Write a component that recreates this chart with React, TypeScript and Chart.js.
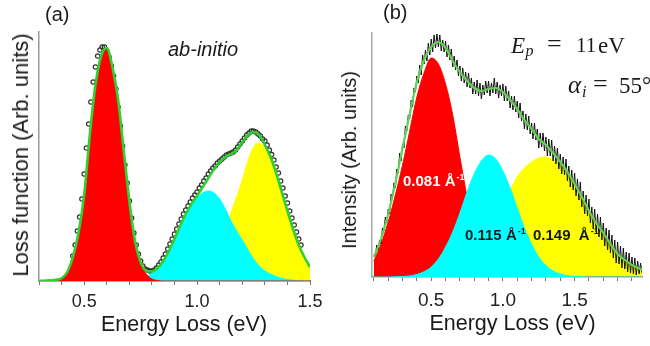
import React, { useEffect, useRef } from 'react';
import { Chart, registerables } from 'chart.js';

Chart.register(...registerables);

// ---------------- Panel (a): ab-initio loss function ----------------
const energyA = [
  0.3, 0.325, 0.35, 0.375, 0.4, 0.425, 0.45, 0.475, 0.5, 0.525,
  0.55, 0.575, 0.6, 0.625, 0.65, 0.675, 0.7, 0.725, 0.75, 0.775,
  0.8, 0.825, 0.85, 0.875, 0.9, 0.925, 0.95, 0.975, 1.0, 1.025,
  1.05, 1.075, 1.1, 1.125, 1.15, 1.175, 1.2, 1.225, 1.25, 1.275,
  1.3, 1.325, 1.35, 1.375, 1.4, 1.425, 1.45, 1.475, 1.5,
];
const redA = [
  0, 0, 0.5, 1, 2.5, 9, 24, 48, 86, 146,
  196, 225, 233, 214, 182, 131, 80, 40, 18, 7,
  2, 0.5, 0, 0, 0, 0, 0, 0, 0, 0,
  0, 0, 0, 0, 0, 0, 0, 0, 0, 0,
  0, 0, 0, 0, 0, 0, 0, 0, 0,
];
const cyanA = [
  0, 0, 0, 0, 0, 0, 0, 0, 0, 0,
  0, 0, 0, 0, 0, 0, 0.2, 0.5, 1.5, 4,
  8, 13, 20, 29, 41, 53, 65, 75, 83, 88,
  90, 88, 82, 72, 60, 50, 41, 31, 22, 15,
  10, 7, 4.5, 2.5, 1.5, 0.8, 0.3, 0, 0,
];
const yellowA = [
  0, 0, 0, 0, 0, 0, 0, 0, 0, 0,
  0, 0, 0, 0, 0, 0, 0, 0, 0, 0,
  0, 0, 0, 0, 0, 0.5, 1, 2, 4, 6,
  9, 14, 24, 44, 68, 84, 101, 120, 134, 138,
  132, 120, 104, 86, 67, 50, 35, 23, 14,
];
const fitA = [
  0, 0.3, 0.6, 1.2, 2.7, 9, 24, 48, 86, 146,
  196, 225, 233, 214, 182, 131, 80, 40, 19, 10,
  9.5, 13, 20, 30, 42, 55, 67, 77, 85, 94,
  103, 112, 119, 124, 127, 131, 139, 146, 149, 146,
  136, 124, 108, 89, 70, 52, 36, 24, 14,
];
const circleEnergyA = [
  0.45, 0.46, 0.47, 0.48, 0.49, 0.5, 0.51, 0.52, 0.53, 0.54,
  0.55, 0.56, 0.57, 0.58, 0.59, 0.6, 0.61, 0.62, 0.63, 0.64,
  0.65, 0.66, 0.67, 0.68, 0.69, 0.7, 0.71, 0.72, 0.73, 0.74,
  0.75, 0.76, 0.77, 0.78, 0.79, 0.8, 0.81, 0.82, 0.83, 0.84,
  0.85, 0.86, 0.87, 0.88, 0.89, 0.9, 0.91, 0.92, 0.93, 0.94,
  0.95, 0.96, 0.97, 0.98, 0.99, 1.0, 1.01, 1.02, 1.03, 1.04,
  1.05, 1.06, 1.07, 1.08, 1.09, 1.1, 1.11, 1.12, 1.13, 1.14,
  1.15, 1.16, 1.17, 1.18, 1.19, 1.2, 1.21, 1.22, 1.23, 1.24,
  1.25, 1.26, 1.27, 1.28, 1.29, 1.3, 1.31, 1.32, 1.33, 1.34,
  1.35, 1.36, 1.37, 1.38, 1.39, 1.4, 1.41, 1.42, 1.43, 1.44,
  1.45, 1.46,
];
const circleA = [
  25, 36, 50, 64, 82, 107, 133, 157, 179, 199,
  214, 225, 231, 234, 234, 230, 224, 215, 205, 192,
  174, 155, 135, 116, 98, 80, 63, 48, 36, 27,
  20, 15, 12, 11, 10, 10, 11, 13, 16, 19,
  23, 27, 32, 37, 42, 47, 52, 57, 62, 67,
  71, 75, 79, 83, 86, 89, 93, 96, 100, 103,
  107, 110, 113, 115, 118, 120, 122, 124, 126, 127,
  128, 129, 131, 134, 137, 140, 143, 146, 148, 150,
  150, 149, 147, 145, 142, 140, 136, 131, 126.5, 121,
  114, 108, 100, 93, 85, 78, 70, 63, 56, 49,
  42, 36,
];
const majorTicksA = [0.5, 1.0, 1.5];

// ---------------- Panel (b): measured spectrum ----------------
const energyB = [
  0.1, 0.15, 0.2, 0.25, 0.3, 0.35, 0.4, 0.45, 0.5, 0.55,
  0.6, 0.65, 0.7, 0.75, 0.8, 0.85, 0.9, 0.95, 1.0, 1.05,
  1.1, 1.15, 1.2, 1.25, 1.3, 1.35, 1.4, 1.45, 1.5, 1.55,
  1.6, 1.65, 1.7, 1.75, 1.8, 1.85, 1.9, 1.95, 1.97,
];
const redB = [
  16, 33, 55, 82, 112, 146, 180, 204, 219, 213,
  193, 162, 120, 80, 45, 20, 7, 2, 0, 0,
  0, 0, 0, 0, 0, 0, 0, 0, 0, 0,
  0, 0, 0, 0, 0, 0, 0, 0, 0,
];
const cyanB = [
  0, 0, 0, 0.2, 0.5, 1.1, 2.6, 5.3, 10, 18,
  30, 45, 64, 85, 103, 116, 122, 118, 106, 89,
  69, 49, 33, 20, 11.5, 6, 3, 1.4, 0.6, 0.2,
  0, 0, 0, 0, 0, 0, 0, 0, 0,
];
const yellowB = [
  0, 0, 0, 0, 0, 0, 0, 0, 0, 0,
  1, 2, 4, 7, 12, 24, 42, 62, 78, 87,
  100, 109, 115, 119, 120, 117, 112, 103, 92, 79,
  65, 53, 43, 32, 22, 16, 11, 8, 7,
];
const fitB = [
  20, 38, 63, 94, 129, 163, 195, 217, 230, 235,
  229, 216, 205, 196, 189, 186, 188, 189, 185, 177,
  168, 157, 148, 138, 132, 124, 115, 105, 93, 80,
  66, 54, 44, 33, 23, 17, 12, 8.5, 7,
];
const noiseEnergyB = [
  0.1, 0.11, 0.12, 0.13, 0.14, 0.15, 0.16, 0.17, 0.18, 0.19,
  0.2, 0.21, 0.22, 0.23, 0.24, 0.25, 0.26, 0.27, 0.28, 0.29,
  0.3, 0.31, 0.32, 0.33, 0.34, 0.35, 0.36, 0.37, 0.38, 0.39,
  0.4, 0.41, 0.42, 0.43, 0.44, 0.45, 0.46, 0.47, 0.48, 0.49,
  0.5, 0.51, 0.52, 0.53, 0.54, 0.55, 0.56, 0.57, 0.58, 0.59,
  0.6, 0.61, 0.62, 0.63, 0.64, 0.65, 0.66, 0.67, 0.68, 0.69,
  0.7, 0.71, 0.72, 0.73, 0.74, 0.75, 0.76, 0.77, 0.78, 0.79,
  0.8, 0.81, 0.82, 0.83, 0.84, 0.85, 0.86, 0.87, 0.88, 0.89,
  0.9, 0.91, 0.92, 0.93, 0.94, 0.95, 0.96, 0.97, 0.98, 0.99,
  1.0, 1.01, 1.02, 1.03, 1.04, 1.05, 1.06, 1.07, 1.08, 1.09,
  1.1, 1.11, 1.12, 1.13, 1.14, 1.15, 1.16, 1.17, 1.18, 1.19,
  1.2, 1.21, 1.22, 1.23, 1.24, 1.25, 1.26, 1.27, 1.28, 1.29,
  1.3, 1.31, 1.32, 1.33, 1.34, 1.35, 1.36, 1.37, 1.38, 1.39,
  1.4, 1.41, 1.42, 1.43, 1.44, 1.45, 1.46, 1.47, 1.48, 1.49,
  1.5, 1.51, 1.52, 1.53, 1.54, 1.55, 1.56, 1.57, 1.58, 1.59,
  1.6, 1.61, 1.62, 1.63, 1.64, 1.65, 1.66, 1.67, 1.68, 1.69,
  1.7, 1.71, 1.72, 1.73, 1.74, 1.75, 1.76, 1.77, 1.78, 1.79,
  1.8, 1.81, 1.82, 1.83, 1.84, 1.85, 1.86, 1.87, 1.88, 1.89,
  1.9, 1.91, 1.92, 1.93, 1.94, 1.95, 1.96, 1.97,
];
const noiseB = [
  22, 21, 32, 27, 37, 33, 49, 46, 60, 54,
  68, 63, 83, 79, 94, 89, 108, 104, 124, 116,
  133, 129, 151, 146, 162, 158, 177, 170, 189, 185,
  201, 194, 212, 202, 222, 213, 227, 216, 234, 222,
  238, 225, 242, 229, 243, 230, 242, 226, 237, 225,
  236, 220, 232, 217, 228, 210, 221, 207, 217, 201,
  211, 196, 209, 194, 205, 190, 204, 189, 199, 183,
  195, 183, 197, 181, 194, 178, 192, 182, 196, 184,
  196, 181, 194, 184, 199, 183, 195, 179, 192, 181,
  193, 176, 191, 176, 186, 169, 181, 167, 181, 165,
  176, 159, 174, 156, 166, 148, 163, 147, 161, 143,
  154, 138, 154, 137, 148, 129, 144, 130, 144, 126,
  140, 121, 138, 121, 137, 116, 131, 113, 129, 108,
  123, 103, 120, 102, 118, 96, 111, 90, 107, 87,
  104, 81, 98, 77, 95, 70, 86, 63, 82, 61,
  78, 54, 70, 48, 68, 45, 63, 40, 60, 37,
  54, 31, 49, 27, 47, 24, 42, 19, 37, 14,
  35, 13, 31, 9, 29, 8, 25, 5, 24, 4,
  20, 3, 19, 2, 16, 3, 14, 4,
];
const majorTicksB = [0.5, 1.0, 1.5];

// ---------------- helpers ----------------
const SANS = "'Liberation Sans', Arial, Helvetica, sans-serif";
const SERIF = "'Liberation Serif', 'Times New Roman', serif";

const pts = (xs: number[], ys: number[]) => xs.map((x, i) => ({ x, y: ys[i] }));

const fillSet = (label: string, xs: number[], ys: number[], color: string, order: number) => ({
  label,
  data: pts(xs, ys),
  borderColor: color,
  borderWidth: 1,
  backgroundColor: color,
  fill: 'origin',
  pointRadius: 0,
  pointHoverRadius: 0,
  cubicInterpolationMode: 'monotone',
  order,
});

const tickCb = (majors: number[]) => (v: any) => {
  const n = Number(v);
  return majors.some((m) => Math.abs(m - n) < 1e-6) ? n.toFixed(1) : '';
};

function makeConfig(opts: {
  datasets: any[];
  min: number;
  max: number;
  ymax: number;
  yWidth: number;
  xHeight: number;
  padTop: number;
  padRight: number;
  majors: number[];
  tickSize: number;
  tickPad: number;
  xBorder: string;
  yBorder: string;
}): any {
  return {
    type: 'line',
    data: { datasets: opts.datasets },
    options: {
      responsive: false,
      maintainAspectRatio: false,
      animation: false,
      events: [],
      layout: { padding: { top: opts.padTop, right: opts.padRight, left: 0, bottom: 0 } },
      plugins: { legend: { display: false }, tooltip: { enabled: false } },
      scales: {
        x: {
          type: 'linear',
          min: opts.min,
          max: opts.max,
          afterFit: (s: any) => {
            s.height = opts.xHeight;
          },
          ticks: {
            stepSize: 0.1,
            autoSkip: false,
            maxRotation: 0,
            minRotation: 0,
            includeBounds: false,
            padding: opts.tickPad,
            color: '#222',
            font: { family: SANS, size: opts.tickSize },
            callback: tickCb(opts.majors),
          },
          grid: {
            display: true,
            drawOnChartArea: false,
            drawTicks: true,
            tickLength: 4,
            tickColor: '#777',
            tickWidth: 1,
          },
          border: { display: true, color: opts.xBorder, width: 1.5 },
        },
        y: {
          type: 'linear',
          min: 0,
          max: opts.ymax,
          afterFit: (s: any) => {
            s.width = opts.yWidth;
          },
          ticks: { display: false },
          grid: { display: false },
          border: { display: true, color: opts.yBorder, width: 1.5 },
        },
      },
    },
  };
}

function Txt(props: {
  x: number;
  base: number;
  size: number;
  serif?: boolean;
  italic?: boolean;
  bold?: boolean;
  color?: string;
  center?: boolean;
  children: React.ReactNode;
}) {
  const k = props.serif ? 0.8375 : 0.8465;
  return (
    <div
      style={{
        position: 'absolute',
        left: props.x,
        top: props.base - k * props.size,
        fontFamily: props.serif ? SERIF : SANS,
        fontSize: props.size,
        lineHeight: 1,
        fontStyle: props.italic ? 'italic' : 'normal',
        fontWeight: props.bold ? 'bold' : 'normal',
        color: props.color || '#1a1a1a',
        whiteSpace: 'nowrap',
        transform: props.center ? 'translateX(-50%)' : undefined,
      }}
    >
      {props.children}
    </div>
  );
}

function VTitle(props: { cx: number; cy: number; size: number; children: React.ReactNode }) {
  return (
    <div
      style={{
        position: 'absolute',
        left: props.cx,
        top: props.cy,
        fontFamily: SANS,
        fontSize: props.size,
        lineHeight: 1,
        color: '#1a1a1a',
        whiteSpace: 'nowrap',
        transform: 'translate(-50%, -50%) rotate(-90deg)',
      }}
    >
      {props.children}
    </div>
  );
}

const sup: React.CSSProperties = {
  fontSize: 9,
  position: 'relative',
  top: -6,
  marginLeft: 1,
};

export default function App() {
  const refA = useRef<HTMLCanvasElement>(null);
  const refB = useRef<HTMLCanvasElement>(null);

  useEffect(() => {
    const chartA = new Chart(
      refA.current as HTMLCanvasElement,
      makeConfig({
        datasets: [
          {
            label: 'fit',
            data: pts(energyA, fitA),
            borderColor: '#2fd12f',
            borderWidth: 2.6,
            pointRadius: 0,
            pointHoverRadius: 0,
            fill: false,
            cubicInterpolationMode: 'monotone',
            order: 0,
          },
          fillSet('peak 1', energyA, redA, '#ff0000', 2),
          fillSet('peak 2', energyA, cyanA, '#00ffff', 3),
          fillSet('peak 3', energyA, yellowA, '#ffff00', 4),
          {
            label: 'ab-initio',
            data: pts(circleEnergyA, circleA),
            showLine: false,
            pointRadius: 2.2,
            pointHoverRadius: 2.2,
            pointBorderWidth: 1.2,
            pointBorderColor: '#333',
            pointBackgroundColor: 'rgba(0,0,0,0)',
            order: 5,
          },
        ],
        min: 0.3,
        max: 1.5,
        ymax: 249,
        yWidth: 39,
        xHeight: 65,
        padTop: 32,
        padRight: 20,
        majors: majorTicksA,
        tickSize: 18,
        tickPad: 6.7,
        xBorder: '#555',
        yBorder: '#999',
      })
    );
    const chartB = new Chart(
      refB.current as HTMLCanvasElement,
      makeConfig({
        datasets: [
          {
            label: 'fit',
            data: pts(energyB, fitB),
            borderColor: '#66cf55',
            borderWidth: 2.2,
            pointRadius: 0,
            pointHoverRadius: 0,
            fill: false,
            cubicInterpolationMode: 'monotone',
            order: 0,
          },
          {
            label: 'data',
            data: pts(noiseEnergyB, noiseB),
            borderColor: '#111',
            borderWidth: 1,
            pointRadius: 0,
            pointHoverRadius: 0,
            fill: false,
            tension: 0,
            order: 1,
          },
          fillSet('0.115', energyB, cyanB, '#00ffff', 2),
          fillSet('0.081', energyB, redB, '#ff0000', 3),
          fillSet('0.149', energyB, yellowB, '#ffff00', 4),
        ],
        min: 0.087,
        max: 1.97,
        ymax: 244,
        yWidth: 42,
        xHeight: 69,
        padTop: 33,
        padRight: 8,
        majors: majorTicksB,
        tickSize: 19,
        tickPad: 8.4,
        xBorder: '#999',
        yBorder: '#aaa',
      })
    );
    return () => {
      chartA.destroy();
      chartB.destroy();
    };
  }, []);

  return (
    <div
      style={{
        position: 'fixed',
        left: 0,
        top: 0,
        width: 650,
        height: 346,
        background: '#fff',
        overflow: 'hidden',
      }}
    >
      <canvas ref={refA} width={330} height={346} style={{ position: 'absolute', left: 0, top: 0 }} />
      <canvas ref={refB} width={320} height={346} style={{ position: 'absolute', left: 330, top: 0 }} />

      {/* panel (a) texts */}
      <Txt x={45} base={20.7} size={20}>(a)</Txt>
      <Txt x={168} base={55.5} size={20} italic>ab-initio</Txt>
      <Txt x={184} base={331.7} size={21.5} center>Energy Loss (eV)</Txt>
      <VTitle cx={21} cy={155} size={22}>Loss function (Arb. units)</VTitle>

      {/* panel (b) texts */}
      <Txt x={383} base={19} size={20}>(b)</Txt>
      <Txt x={512.5} base={331.5} size={21.5} center>Energy Loss (eV)</Txt>
      <VTitle cx={349} cy={160} size={20}>Intensity (Arb. units)</VTitle>

      <Txt x={511} base={53} size={23} serif italic>E</Txt>
      <Txt x={525.5} base={56} size={16} serif italic>p</Txt>
      <Txt x={547} base={53} size={26} serif>=</Txt>
      <Txt x={576} base={53} size={21} serif>11</Txt>
      <Txt x={598} base={53} size={23} serif>eV</Txt>

      <Txt x={568} base={93} size={25} serif italic>α</Txt>
      <Txt x={582} base={97} size={16} serif italic>i</Txt>
      <Txt x={593} base={93} size={26} serif>=</Txt>
      <Txt x={619} base={93} size={23} serif>55°</Txt>

      <Txt x={403} base={186} size={15} bold color="#ffffff">
        0.081 Å<span style={sup}>-1</span>
      </Txt>
      <Txt x={465} base={239.5} size={15} bold color="#111820">
        0.115 Å<span style={sup}>-1</span>
      </Txt>
      <Txt x={533} base={239.5} size={15} bold color="#111820">
        0.149&nbsp;&nbsp;Å<span style={sup}>-1</span>
      </Txt>
    </div>
  );
}
